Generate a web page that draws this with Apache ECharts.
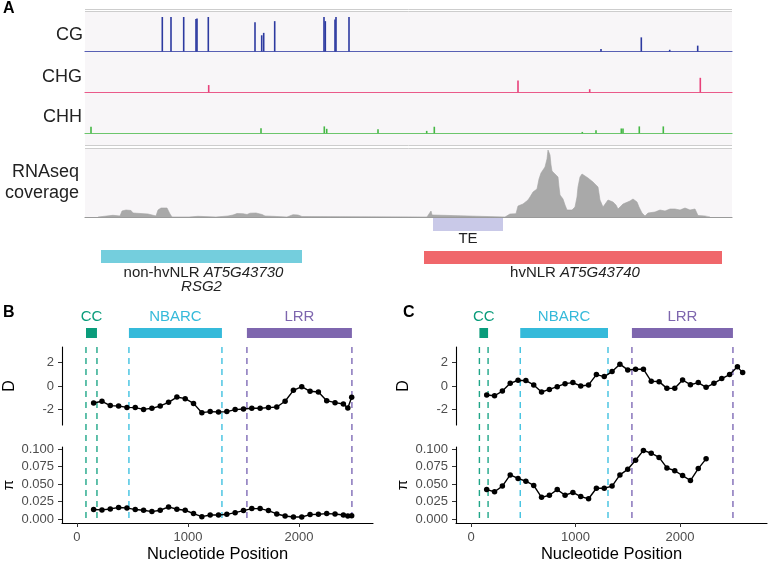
<!DOCTYPE html>
<html><head><meta charset="utf-8">
<script src="https://cdn.jsdelivr.net/npm/echarts@6/dist/echarts.min.js"></script>
<style>html,body{margin:0;padding:0;background:#fff}#c{width:769px;height:562px}</style>
</head><body><div id="c"></div>
<script>
// ---------- Panel A data (genomic position in bp along the shown region) ----------
const cgPos = [1546,1720,1974,2220,2240,2466,3400,3534,3574,3794,4780,4806,5000,5020,5280,10320,11126,11694,12254];
const cgLevel = [1.0,1.0,1.0,0.94,0.96,1.0,0.85,0.47,0.54,0.88,1.0,0.88,0.93,1.0,1.0,0.07,0.41,0.05,0.17];
const chgPos = [2474,8660,10094,12306];
const chgLevel = [0.21,0.34,0.09,0.42];
const chhPos = [120,3520,4786,4834,5860,6834,6986,9946,10220,10726,10760,11086,11566];
const chhLevel = [0.19,0.15,0.2,0.13,0.12,0.07,0.19,0.04,0.09,0.14,0.14,0.2,0.2];
const covPos = [260,300,560,600,700,740,820,920,960,1000,1260,1300,1420,1460,1520,1640,1700,1740,2080,2100,2260,2300,2620,2640,2860,2900,2960,3040,3160,3240,3300,3420,3540,3600,3640,3760,3800,4040,4080,4160,4260,4340,4380,
 6840,6880,6920,6940,6980,
 8400,8440,8500,8620,8660,8760,8860,8900,8960,9000,9040,9080,9120,9160,9200,9240,9260,9280,9300,9320,9340,9400,9460,9480,9500,9560,9600,9640,9740,9800,9840,9860,9900,9940,10000,10060,10160,10260,10300,10360,10400,10460,10560,10620,10660,10700,10760,10800,10900,10960,11000,11040,11080,11140,11200,11260,11300,11400,11440,11500,11540,11600,11640,11700,11740,11800,11840,11900,11940,12000,12040,12100,12140,12200,12240,12260,12400,12460,12500];
const covDepth = [0,1.7,1.7,0.5,1,6,7,6.5,4,3.5,3,1,1,7,9,9,3,0,0,0.7,0.7,0,0,1,1,0.5,2,3.5,3.3,2.5,3.8,4,2.5,1,0.7,0.7,0,0,1.5,2.3,2,0.5,0,
 0,3,6,2,0,
 0,2,3,3.3,11,13,17,20,25,26,28,38,44,47,50,58,67,69,62,52,46,43,40,30,22,18,12,7,7,10,20,30,40,43,41,39,35,30,17,10,12,17,15,12,8,8,13,14,16,18,20,15,10,4,1,4,4,5,6,7,8,6,7,8,7,8,8,7,8,9,9,7,8,8,6,1.5,1,0.5,0];
const featName = ['non-hvNLR', 'TE', 'hvNLR'];
const featId = ['AT5G43730', '', 'AT5G43740'];
const featAlias = ['RSG2', '', ''];
const featStart = [320, 6960, 6780];
const featEnd = [4340, 8360, 12740];
const trackNames = ['CG', 'CHG', 'CHH'];

// ---------- Panels B / C data ----------
const domNames = ['CC', 'NBARC', 'LRR'];
const domStartB = [81, 468, 1531];
const domEndB = [180, 1306, 2477];
const domStartC = [80, 471, 1540];
const domEndC = [163, 1311, 2507];

const posB = [150,225,300,375,450,525,600,675,750,825,900,975,1050,1125,1200,1275,1350,1425,1500,1575,1650,1725,1800,1875,1950,2025,2100,2175,2250,2325,2400,2440,2475];
const tajimaB = [-1.45,-1.30,-1.67,-1.70,-1.82,-1.84,-1.99,-1.90,-1.70,-1.39,-0.94,-1.08,-1.48,-2.27,-2.18,-2.21,-2.18,-2.01,-1.96,-1.90,-1.90,-1.84,-1.79,-1.30,-0.37,-0.06,-0.45,-0.51,-1.25,-1.42,-1.53,-1.87,-0.96];
const piB = [0.0135,0.013,0.0144,0.0164,0.0159,0.0135,0.0125,0.0106,0.0125,0.0173,0.014,0.0125,0.0077,0.0034,0.0058,0.0058,0.0067,0.0091,0.012,0.0149,0.0149,0.012,0.0072,0.0043,0.0029,0.0029,0.0063,0.0067,0.0077,0.0072,0.0058,0.0043,0.0048];

const posCD = [150,225,300,375,450,525,600,675,750,825,900,975,1050,1125,1200,1275,1350,1425,1500,1575,1650,1725,1800,1875,1950,2025,2100,2175,2250,2325,2400,2475,2550,2600];
const tajimaC = [-0.77,-0.83,-0.43,0.23,0.49,0.46,0.09,-0.51,-0.29,-0.06,0.2,0.29,0,0.09,0.97,0.8,1.23,1.86,1.37,1.43,1.43,0.4,0.37,-0.2,-0.2,0.51,0.11,0.29,-0.11,0.23,0.63,0.97,1.63,1.14];
const posCP = [150,225,300,375,450,525,600,675,750,825,900,975,1050,1125,1200,1275,1350,1425,1500,1575,1650,1725,1800,1875,1950,2025,2100,2175,2250];
const piC = [0.042,0.039,0.047,0.063,0.058,0.054,0.048,0.031,0.034,0.042,0.034,0.038,0.032,0.029,0.044,0.044,0.047,0.063,0.071,0.084,0.098,0.094,0.088,0.073,0.069,0.062,0.055,0.072,0.086];

const dTicks = [-2, 0, 2];
const piTicks = [0, 0.025, 0.05, 0.075, 0.1];
const posTicks = [0, 1000, 2000];

// ---------- styling ----------
const FONT = 'Liberation Sans, Arial, Helvetica, sans-serif';
const domColors = ['#0a9c7b', '#35bada', '#7e66ae'];
const vlineColors = ['#1fa688', '#40c1e0', '#7f6ab6'];
const featColors = ['#74cedd', '#c9c9e8', '#f0676b'];
const featBarTop = [250, 218, 251];
const featLabelY = [273, 239, 273];

const grids = [], xAxes = [], yAxes = [], series = [];
function addGrid(g, x, y) {
  grids.push(Object.assign({outerBoundsMode: 'none', containLabel: false}, g));
  const gi = grids.length - 1;
  xAxes.push(Object.assign({gridIndex: gi}, x));
  yAxes.push(Object.assign({gridIndex: gi}, y));
  return gi;
}
const hidX = (min, max) => ({type: 'value', min, max, show: false});
const hidY = (min, max) => ({type: 'value', min, max, show: false});
const baseX = (color) => ({type: 'value', min: 0, max: 12940, axisLine: {show: true, onZero: true, lineStyle: {color, width: 1.2}}, axisTick: {show: false}, axisLabel: {show: false}, splitLine: {show: false}});

// ---------- Panel A ----------
const A_LEFT = 85, A_W = 647;
const trackColors = [['#2d3aa0', '#5860b4'], ['#e8417a', '#ea5a8a'], ['#45b845', '#6cc66c']];
const trackPos = [cgPos, chgPos, chhPos];
const trackLvl = [cgLevel, chgLevel, chhLevel];
const trackTops = [17, 57.8, 98.8];
for (let t = 0; t < 3; t++) {
  const gi = addGrid({left: A_LEFT, top: trackTops[t], width: A_W, height: 34.5}, baseX(trackColors[t][1]), hidY(0, 1));
  series.push({type: 'bar', xAxisIndex: gi, yAxisIndex: gi, barWidth: 1.6, itemStyle: {color: trackColors[t][0]},
    data: trackPos[t].map((p, i) => [p, trackLvl[t][i]]), z: 3});
}
const gRna = addGrid({left: A_LEFT, top: 148, width: A_W, height: 69}, baseX('#9a9a9a'), hidY(0, 69));
series.push({type: 'line', xAxisIndex: gRna, yAxisIndex: gRna, showSymbol: false, symbol: 'none',
  lineStyle: {width: 0.6, color: '#a3a3a3'}, areaStyle: {color: '#a9a9a9', opacity: 1},
  data: covPos.map((p, i) => [p, covDepth[i]])});

const gFeat = addGrid({left: A_LEFT, top: 210, width: A_W, height: 85}, hidX(0, 12940), hidY(0, 1));
series.push({type: 'custom', xAxisIndex: gFeat, yAxisIndex: gFeat,
  data: featStart.map((s, i) => [s, featEnd[i]]),
  renderItem: function (params, api) {
    const i = params.dataIndex;
    const x0 = api.coord([api.value(0), 0])[0];
    const x1 = api.coord([api.value(1), 0])[0];
    const cx = (x0 + x1) / 2;
    const kids = [{type: 'rect', shape: {x: x0, y: featBarTop[i], width: x1 - x0, height: 13}, style: {fill: featColors[i]}}];
    let txt;
    if (featId[i]) txt = '{n|' + featName[i] + ' }{i|' + featId[i] + '}';
    else txt = '{n|' + featName[i] + '}';
    kids.push({type: 'text', style: {text: txt, x: cx + (featId[i] ? 2 : 0), y: featLabelY[i], align: 'center', verticalAlign: 'middle',
      rich: {n: {fontSize: 15, fontFamily: FONT, fill: '#222', color: '#222'},
             i: {fontSize: 15, fontFamily: FONT, fontStyle: 'italic', fill: '#222', color: '#222'}}}});
    if (featAlias[i]) kids.push({type: 'text', style: {text: featAlias[i], x: cx, y: featLabelY[i] + 14, align: 'center', verticalAlign: 'middle',
      fontSize: 15, fontFamily: FONT, fontStyle: 'italic', fill: '#222'}});
    return {type: 'group', children: kids};
  }});

// ---------- Panels B / C ----------
function buildPanel(left, xmin, xmax, dPos, dVals, pPos, pVals, dStart, dEnd) {
  const W = 311;
  const axisLine = {show: true, onZero: false, lineStyle: {color: '#000', width: 1.1}};
  const tickStyle = {color: '#333', width: 1};
  const gDom = addGrid({left, top: 305, width: W, height: 40}, hidX(xmin, xmax), hidY(0, 1));
  const gD = addGrid({left, top: 347, width: W, height: 78}, hidX(xmin, xmax),
    {type: 'value', min: -3.32, max: 3.32, axisLine,
     axisTick: {show: true, length: 4, customValues: dTicks, lineStyle: tickStyle},
     axisLabel: {customValues: dTicks, margin: 8, color: '#4d4d4d', fontSize: 13, fontFamily: FONT, formatter: v => String(v)},
     splitLine: {show: false}, name: 'D', nameLocation: 'middle', nameGap: 44,
     nameTextStyle: {fontSize: 16, color: '#000', fontFamily: FONT}});
  const gP = addGrid({left, top: 447, width: W, height: 76},
    {type: 'value', min: xmin, max: xmax, axisLine,
     axisTick: {show: true, length: 4, customValues: posTicks, lineStyle: tickStyle},
     axisLabel: {customValues: posTicks, margin: 8, color: '#4d4d4d', fontSize: 13, fontFamily: FONT, formatter: v => String(v)},
     splitLine: {show: false}, name: 'Nucleotide Position', nameLocation: 'middle', nameGap: 23,
     nameTextStyle: {fontSize: 16.5, color: '#000', fontFamily: FONT}},
    {type: 'value', min: -0.0057, max: 0.1029, axisLine,
     axisTick: {show: true, length: 4, customValues: piTicks, lineStyle: tickStyle},
     axisLabel: {customValues: piTicks, margin: 8, color: '#4d4d4d', fontSize: 13, fontFamily: FONT, formatter: v => v.toFixed(3)},
     splitLine: {show: false}, name: 'π', nameLocation: 'middle', nameGap: 46,
     nameTextStyle: {fontSize: 15, color: '#000', fontFamily: FONT}});
  const gV = addGrid({left, top: 347, width: W, height: 176}, hidX(xmin, xmax), hidY(0, 1));
  const domData = dStart.map((s, i) => [s, dEnd[i]]);
  series.push({type: 'custom', xAxisIndex: gDom, yAxisIndex: gDom, data: domData,
    renderItem: function (params, api) {
      const i = params.dataIndex, cs = params.coordSys;
      const x0 = api.coord([api.value(0), 0])[0], x1 = api.coord([api.value(1), 0])[0];
      return {type: 'group', children: [
        {type: 'rect', shape: {x: x0, y: cs.y + 23, width: x1 - x0, height: 10}, style: {fill: domColors[i]}},
        {type: 'text', style: {text: domNames[i], x: (x0 + x1) / 2, y: cs.y + 12, align: 'center', verticalAlign: 'middle',
          fontSize: 15, fontFamily: FONT, fill: domColors[i]}}
      ]};
    }});
  series.push({type: 'custom', xAxisIndex: gV, yAxisIndex: gV, data: domData, z: 1,
    renderItem: function (params, api) {
      const i = params.dataIndex, cs = params.coordSys;
      const kids = [0, 1].map(k => {
        const x = api.coord([api.value(k), 0])[0];
        return {type: 'line', shape: {x1: x, y1: cs.y, x2: x, y2: cs.y + cs.height},
          style: {stroke: vlineColors[i], lineWidth: 1.4, lineDash: [6, 5]}};
      });
      return {type: 'group', children: kids};
    }});
  const lineCommon = {type: 'line', symbol: 'circle', symbolSize: 5.5, lineStyle: {color: '#000', width: 1.4},
    itemStyle: {color: '#000'}, z: 5};
  series.push(Object.assign({}, lineCommon, {xAxisIndex: gD, yAxisIndex: gD, data: dPos.map((p, i) => [p, dVals[i]])}));
  series.push(Object.assign({}, lineCommon, {xAxisIndex: gP, yAxisIndex: gP, data: pPos.map((p, i) => [p, pVals[i]])}));
}
buildPanel(62, -135, 2667, posB, tajimaB, posB, piB, domStartB, domEndB);
buildPanel(456, -144, 2833, posCD, tajimaC, posCP, piC, domStartC, domEndC);

// ---------- decorations & labels ----------
const sepLine = (y) => ({type: 'line', shape: {x1: A_LEFT, y1: y, x2: A_LEFT + A_W, y2: y}, style: {stroke: '#cdcdcd', lineWidth: 1}, z: 1});
const txt = (t, x, y, opts) => ({type: 'text', z: 10, style: Object.assign({text: t, x, y, fontFamily: FONT, fontSize: 18, fill: '#222',
  align: 'right', verticalAlign: 'middle'}, opts || {})});
const graphic = [
  {type: 'rect', shape: {x: A_LEFT, y: 11, width: A_W, height: 134}, style: {fill: '#f8f6f8'}, z: 0},
  {type: 'rect', shape: {x: A_LEFT, y: 148, width: A_W, height: 69}, style: {fill: '#f8f6f8'}, z: 0},
  sepLine(9.5), sepLine(11.5), sepLine(145.5), sepLine(148.5),
  txt(trackNames[0], 83, 35), txt(trackNames[1], 82, 77.5), txt(trackNames[2], 82, 117.5),
  txt('RNAseq', 79, 172), txt('coverage', 79, 193),
  txt('A', 3, 9, {align: 'left', fontWeight: 'bold', fontSize: 16, fill: '#000'}),
  txt('B', 3, 313, {align: 'left', fontWeight: 'bold', fontSize: 16, fill: '#000'}),
  txt('C', 403, 313, {align: 'left', fontWeight: 'bold', fontSize: 16, fill: '#000'})
];

const chart = echarts.init(document.getElementById('c'));
chart.setOption({
  animation: false,
  backgroundColor: '#ffffff',
  textStyle: {fontFamily: FONT},
  grid: grids, xAxis: xAxes, yAxis: yAxes, series, graphic
});
</script>
</body></html>
